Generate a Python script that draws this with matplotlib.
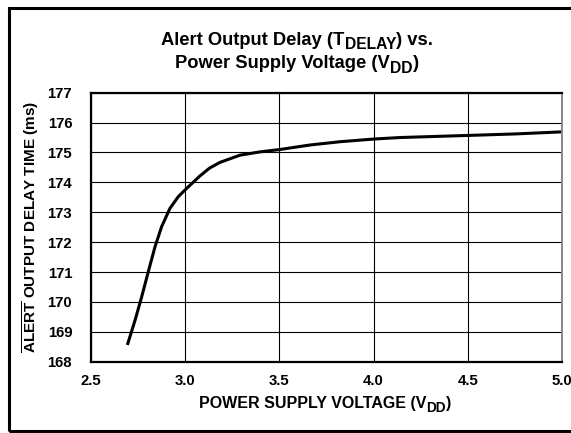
import matplotlib
matplotlib.use("Agg")
import matplotlib.pyplot as plt
from matplotlib.patches import Rectangle

plt.rcParams['font.family'] = ['Liberation Sans', 'DejaVu Sans']
plt.rcParams['mathtext.fontset'] = 'custom'
plt.rcParams['mathtext.rm'] = 'Liberation Sans:bold'
plt.rcParams['mathtext.bf'] = 'Liberation Sans:bold'
plt.rcParams['mathtext.it'] = 'Liberation Sans:bold'

# Data
vdd = [2.693, 2.734, 2.769, 2.804, 2.840, 2.875, 2.919, 2.963, 3.008, 3.079,
       3.130, 3.185, 3.238, 3.291, 3.397, 3.503, 3.662, 3.822, 4.002, 4.14,
       4.5, 4.75, 5.0]
delay = [168.56, 169.39, 170.17, 171.01, 171.85, 172.52, 173.13, 173.52,
         173.80, 174.22, 174.48, 174.67, 174.79, 174.91, 175.02, 175.10,
         175.25, 175.36, 175.45, 175.50, 175.57, 175.62, 175.69]
x_ticks = [2.5, 3.0, 3.5, 4.0, 4.5, 5.0]
x_ticklabels = ['2.5', '3.0', '3.5', '4.0', '4.5', '5.0']
y_ticks = [168, 169, 170, 171, 172, 173, 174, 175, 176, 177]

W, H = 571, 433
fig = plt.figure(figsize=(W / 100, H / 100), dpi=100)
ax = fig.add_axes([91 / W, (H - 361.7) / H, 471 / W, 269 / H])

ax.plot(vdd, delay, color='black', lw=2.2, solid_capstyle='butt',
        solid_joinstyle='round')
ax.set_xlim(2.5, 5.0)
ax.set_ylim(168, 177)
ax.set_xticks(x_ticks)
ax.set_xticklabels(x_ticklabels)
ax.set_yticks(y_ticks)
ax.tick_params(axis='both', length=0, labelsize=10.7)
ax.tick_params(axis='x', pad=8.5)
ax.tick_params(axis='y', pad=13.5)
for lbl in ax.get_xticklabels() + ax.get_yticklabels():
    lbl.set_fontweight('bold')
ax.grid(True, color='black', lw=0.8)
ax.set_axisbelow(True)
for side in ['top', 'left', 'bottom']:
    ax.spines[side].set_color('black')
    ax.spines[side].set_linewidth(1.6)
ax.spines['right'].set_color('#888888')
ax.spines['right'].set_linewidth(1.4)

# Outer frame
fig.patches.append(Rectangle((8.7 / W, (H - 430.7) / H), 1.2, (430.7 - 7.5) / H,
                             transform=fig.transFigure, fill=False,
                             edgecolor='black', lw=2.2, clip_on=False))

renderer = fig.canvas.get_renderer()


def rich_line(parts, xc_px, ybase_px, size):
    items = []
    for s, sc, dy in parts:
        t = fig.text(0, 0, s, fontsize=size * sc, fontweight='bold',
                     ha='left', va='baseline')
        w = t.get_window_extent(renderer).width
        items.append((t, w, dy))
    total = sum(w for _, w, _ in items)
    x = xc_px - total / 2
    for t, w, dy in items:
        t.set_position((x / W, (H - (ybase_px + dy)) / H))
        x += w


rich_line([("Alert Output Delay (T", 1.0, 0), ("DELAY", 0.85, 4.3), (") vs.", 1.0, 0)],
          297, 45, 13.2)
rich_line([("Power Supply Voltage (V", 1.0, 0), ("DD", 0.85, 4.3), (")", 1.0, 0)],
          297, 68.3, 13.2)
rich_line([("POWER SUPPLY VOLTAGE (V", 1.0, 0), ("DD", 0.85, 3.5), (")", 1.0, 0)],
          325, 408.3, 11.5)

fig.text(31 / W, (H - 227) / H, r'$\overline{\mathrm{ALERT}}$ OUTPUT DELAY TIME (ms)',
         rotation=90, ha='center', va='center', fontsize=11, fontweight='bold')

fig.savefig('out.png', dpi=100)
